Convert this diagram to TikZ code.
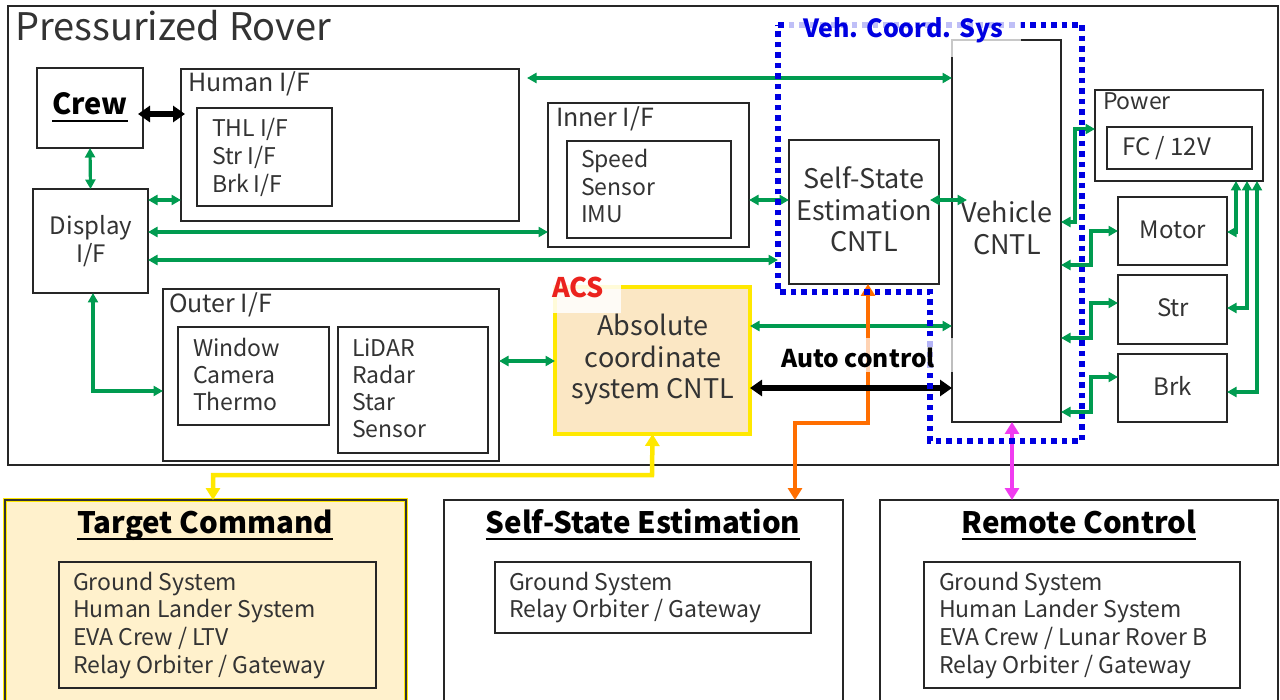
\documentclass[tikz,border=0pt]{standalone}
\usepackage{fontspec}
\setmainfont{Noto Sans CJK JP}
\usetikzlibrary{arrows.meta,calc}
\definecolor{grn}{RGB}{0,155,80}
\definecolor{ylw}{RGB}{255,232,0}
\definecolor{org}{RGB}{255,110,0}
\definecolor{mgt}{RGB}{240,60,240}
\definecolor{vblue}{RGB}{0,0,225}
\definecolor{acsfill}{RGB}{251,231,196}
\definecolor{tgtfill}{RGB}{255,241,204}
\definecolor{acsred}{RGB}{235,35,30}
\newcommand\fz[1]{\fontsize{#1}{#1}\selectfont}
% box from its top-left corner (x1,y1) to its bottom-right corner (x2,y2)
\newcommand\pbox[7]{\node[#6, anchor=north west, minimum width={#4-#2}, minimum height={#5-#3}] (#1) at (#2,#3) {#7};}
\begin{document}
\begin{tikzpicture}[x=1pt,y=-1pt,
  box/.style={draw=black!85, line width=1.8pt, inner sep=0pt, outer sep=0pt},
  txt/.style={inner sep=0pt, outer sep=0pt, text=black!80},
  head/.style={txt, font=\fz{29.5}\bfseries, text=black},
  garr/.style={draw=grn, line width=3.2pt, {Triangle[length=9.5pt,width=10pt]}-{Triangle[length=9.5pt,width=10pt]}},
  barr/.style={draw=black, line width=5.5pt, {Triangle[length=12pt,width=16pt]}-{Triangle[length=12pt,width=16pt]}},
  carr/.style={line width=4.5pt, {Triangle[length=12pt,width=14pt]}-{Triangle[length=12pt,width=14pt]}},
  vcs/.style={draw=vblue, line width=5.5pt, dash pattern=on 5.5pt off 5pt},
  ul/.style={draw=black, line width=1.8pt}
]
\useasboundingbox (0,0) rectangle (1280,700);
\clip (0,0) rectangle (1280,700);
\fill[white] (0,0) rectangle (1280,700);

% ---------- rover and its blocks ----------
\pbox{rover}{8}{6}{1278}{465}{box}{}
\node[txt, anchor=base west, font=\fz{38}] (t-rover) at (15,41) {Pressurized Rover};

\pbox{crew}{37}{68}{143}{148}{box}{}
\node[txt, anchor=base, font=\fz{29}\bfseries, text=black] (t-crew) at (90,115) {Crew};
\draw[ul] ([yshift=-6pt]t-crew.base west) -- ([yshift=-6pt]t-crew.base east);

\pbox{human}{181}{69}{519}{221}{box}{}
\node[txt, anchor=base west, font=\fz{25}] (t-human) at (188,92) {Human I/F};
\pbox{thl}{197}{108}{332}{206}{box}{}
\foreach \s [count=\i] in {THL I/F, Str I/F, Brk I/F}
  \node[txt, anchor=base west, font=\fz{23}] (thl\i) at (212,{137+28*(\i-1)}) {\s};

\pbox{display}{33}{189}{148}{293}{box}{}
\node[txt, anchor=base, font=\fz{24}] (t-disp1) at (91,235) {Display};
\node[txt, anchor=base, font=\fz{24}] (t-disp2) at (91,263) {I/F};

\pbox{inner}{548}{103}{749}{247}{box}{}
\node[txt, anchor=base west, font=\fz{25}] (t-inner) at (556,127) {Inner I/F};
\pbox{imu}{567}{141}{731}{238}{box}{}
\foreach \s [count=\i] in {Speed, Sensor, IMU}
  \node[txt, anchor=base west, font=\fz{23}] (imu\i) at (581,{168+27.5*(\i-1)}) {\s};

\pbox{self}{789}{140}{939}{284}{box}{}
\foreach \s [count=\i] in {Self-State, Estimation, CNTL}
  \node[txt, anchor=base, font=\fz{27}] (self\i) at (864,{189+31.5*(\i-1)}) {\s};

\pbox{veh}{952}{40}{1061}{422}{box}{}
\node[txt, anchor=base, font=\fz{27}] (veh1) at (1007,223) {Vehicle};
\node[txt, anchor=base, font=\fz{27}] (veh2) at (1007,255) {CNTL};

\pbox{power}{1095}{90}{1263}{181}{box}{}
\node[txt, anchor=base west, font=\fz{23}] (t-power) at (1103,110) {Power};
\pbox{fc}{1107}{127}{1252}{169}{box}{}
\node[txt, anchor=base west, font=\fz{24}] (t-fc) at (1122,156) {FC / 12V};

\pbox{motor}{1118}{197}{1227}{265}{box}{}
\node[txt, anchor=base, font=\fz{24}] (t-motor) at (1173,239) {Motor};
\pbox{str}{1118}{275}{1227}{344}{box}{}
\node[txt, anchor=base, font=\fz{24}] (t-str) at (1173,317) {Str};
\pbox{brk}{1118}{354}{1227}{422}{box}{}
\node[txt, anchor=base, font=\fz{24}] (t-brk) at (1173,396) {Brk};

\pbox{outer}{163}{289}{499}{461}{box}{}
\node[txt, anchor=base west, font=\fz{25}] (t-outer) at (169,313) {Outer I/F};
\pbox{window}{178}{327}{329}{425}{box}{}
\foreach \s [count=\i] in {Window, Camera, Thermo}
  \node[txt, anchor=base west, font=\fz{23}] (win\i) at (193,{357+27*(\i-1)}) {\s};
\pbox{lidar}{338}{327}{488}{453}{box}{}
\foreach \s [count=\i] in {LiDAR, Radar, Star, Sensor}
  \node[txt, anchor=base west, font=\fz{23}] (lid\i) at (352,{357+27*(\i-1)}) {\s};

\pbox{acs}{555}{287}{750}{434}{draw=ylw, line width=4.5pt, fill=acsfill, inner sep=0pt, outer sep=0pt}{}
\foreach \s [count=\i] in {Absolute, coordinate, system CNTL}
  \node[txt, anchor=base, font=\fz{27}] (acs\i) at (653,{336+31.5*(\i-1)}) {\s};

% ---------- external partners ----------
\pbox{target}{5}{500}{406}{712}{draw=ylw, line width=4pt, fill=tgtfill, inner sep=0pt, outer sep=0pt}{}
\draw[black!80, line width=1.2pt] (target.north west) rectangle (target.south east);
\node[head, anchor=base] (t-target) at (205,533) {Target Command};
\draw[ul] ([yshift=-6pt]t-target.base west) -- ([yshift=-6pt]t-target.base east);
\pbox{tlist}{59}{562}{376}{688}{box}{}
\foreach \s [count=\i] in {Ground System, Human Lander System, EVA Crew / LTV, Relay Orbiter / Gateway}
  \node[txt, anchor=base west, font=\fz{23}] (tl\i) at (73,{590+27.7*(\i-1)}) {\s};

\pbox{sse}{444}{500}{843}{712}{box}{}
\node[head, anchor=base] (t-sse) at (643,533) {Self-State Estimation};
\draw[ul] ([yshift=-6pt]t-sse.base west) -- ([yshift=-6pt]t-sse.base east);
\pbox{slist}{495}{562}{811}{633}{box}{}
\foreach \s [count=\i] in {Ground System, Relay Orbiter / Gateway}
  \node[txt, anchor=base west, font=\fz{23}] (sl\i) at (509,{590+27.7*(\i-1)}) {\s};

\pbox{remote}{880}{500}{1278}{712}{box}{}
\node[head, anchor=base] (t-remote) at (1079,533) {Remote Control};
\draw[ul] ([yshift=-6pt]t-remote.base west) -- ([yshift=-6pt]t-remote.base east);
\pbox{rlist}{924}{562}{1240}{688}{box}{}
\foreach \s [count=\i] in {Ground System, Human Lander System, EVA Crew / Lunar Rover B, Relay Orbiter / Gateway}
  \node[txt, anchor=base west, font=\fz{23}] (rl\i) at (939,{590+27.7*(\i-1)}) {\s};

% ---------- green data links ----------
\coordinate (vcsW) at (778,260);
\draw[garr] (crew.south) -- (display.north);
\draw[garr] (display.east |- 0,200) -- (human.west |- 0,200);
\draw[garr] (display.east |- 0,232) -- (inner.west |- 0,232);
\draw[garr] (display.east |- 0,260) -- (vcsW);
\draw[garr] ($(human.east |- 0,78)+(8,0)$) -- (veh.west |- 0,78);
\draw[garr] (inner.east |- 0,200) -- (self.west |- 0,200);
\draw[garr] ($(self.east |- 0,200)+(-9,0)$) -- ($(veh.west |- 0,200)+(15,0)$);
\draw[garr] (veh.east |- 0,222) -| (1075,129) -- (power.west |- 0,129);
\draw[garr] (veh.east |- 0,265) -| (1091,231) -- (motor.west |- 0,231);
\draw[garr] (veh.east |- 0,338) -| (1091,303) -- (str.west |- 0,303);
\draw[garr] (veh.east |- 0,412) -| (1091,377) -- (brk.west |- 0,377);
\draw[garr] (motor.east |- 0,232) -| (power.south -| 1236,0);
\draw[garr] (str.east |- 0,308) -| (power.south -| 1247,0);
\draw[garr] (brk.east |- 0,392) -| (power.south -| 1257,0);
\draw[garr] (display.south -| 93,0) |- (outer.west |- 0,391);
\draw[garr] (outer.east |- 0,361) -- (acs.west |- 0,361);
\draw[garr] (acs.east |- 0,326) -- (veh.west |- 0,326);

% ---------- links to the partners ----------
\draw[carr, draw=org] (self.south -| 868,0) -- (868,423) -| (sse.north -| 795,0);
\draw[carr, draw=mgt] (veh.south -| 1012,0) -- (remote.north -| 1012,0);
\draw[carr, draw=ylw] (acs.south) -- (652,475) -| (target.north -| 213,0);

% ---------- crew and auto control links ----------
\draw[barr, line width=6pt] ($(crew.east |- 0,114)+(-5,0)$) -- ($(human.west |- 0,114)+(4,0)$);
\draw[barr] (acs.east |- 0,388) -- (veh.west |- 0,388);

% ---------- vehicle coordinate system ----------
\draw[vcs] (778,25) -- (1082,25) -- (1082,441) -- (930,441) -- (930,292) -- (778,292) -- cycle;

% ---------- labels ----------
\node[fill=white, fill opacity=0.75, minimum width=233pt, minimum height=40pt, inner sep=0pt] (vcsbg) at (904.5,37) {};
\node[txt, anchor=base, font=\fz{25}\bfseries, text=vblue] (t-vcs) at (903,38) {Veh. Coord. Sys};
\node[fill=white, fill opacity=0.85, minimum width=68pt, minimum height=30pt, inner sep=0pt] (acsbg) at (587,298) {};
\node[txt, anchor=base west, font=\fz{27}\bfseries, text=acsred] (t-acs) at (552,298) {ACS};
\node[fill=white, fill opacity=0.7, minimum width=183pt, minimum height=34pt, inner sep=0pt] (autobg) at (863,355) {};
\node[txt, anchor=base, font=\fz{24.5}\bfseries, text=black] (t-auto) at (858,368) {Auto control};
\end{tikzpicture}
\end{document}
